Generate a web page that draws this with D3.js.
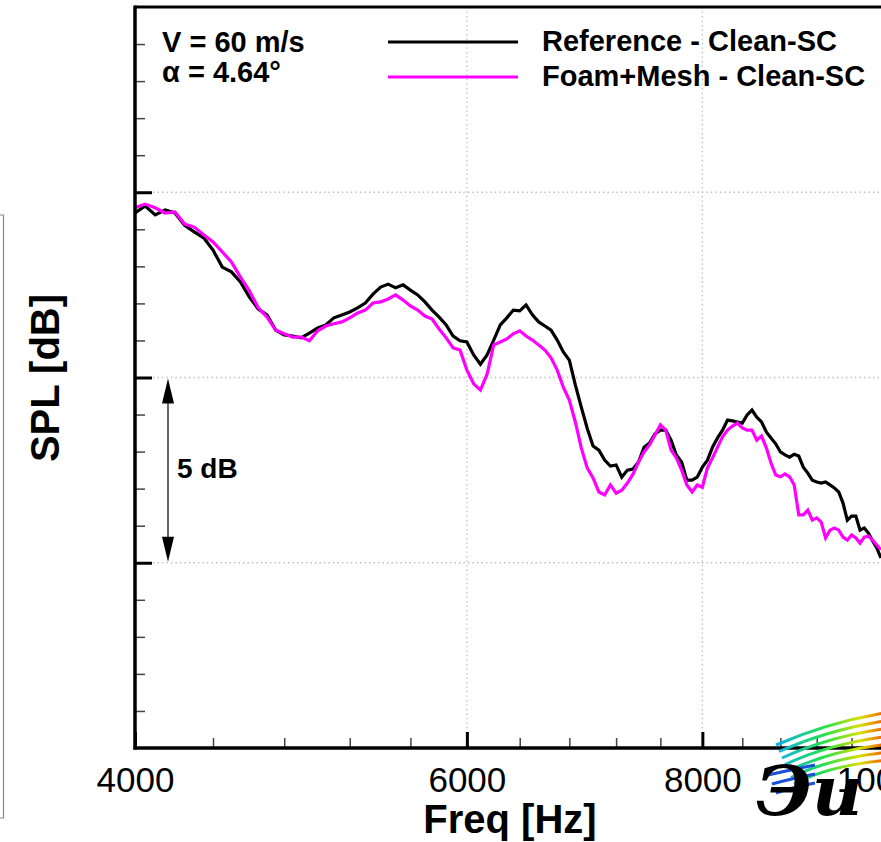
<!DOCTYPE html>
<html>
<head>
<meta charset="utf-8">
<script src="https://cdn.jsdelivr.net/npm/d3@7"></script>
<style>
  html, body { margin: 0; padding: 0; background: #fff; }
  svg { display: block; font-family: Arial, "Liberation Sans", Helvetica, sans-serif; }
</style>
</head>
<body>
<svg id="chart" width="881" height="842"></svg>
<script>
// ---------------- DATA ----------------
const freqs = [4000,4050,4100,4150,4200,4250,4300,4350,4400,4450,4500,4550,4600,4650,4700,4750,4800,4850,4900,4950,
  5000,5050,5100,5150,5200,5250,5300,5350,5400,5450,5500,5550,5600,5650,5700,5750,5800,5850,5900,5950,
  6000,6050,6100,6150,6200,6250,6300,6350,6400,6450,6500,6550,6600,6650,6700,6750,6800,6850,6900,6950,
  7000,7050,7100,7150,7200,7250,7300,7350,7400,7450,7500,7550,7600,7650,7700,7750,7800,7850,7900,7950,
  8000,8050,8100,8150,8200,8250,8300,8350,8400,8450,8500,8550,8600,8650,8700,8750,8800,8850,8900,8950,
  9000,9050,9100,9150,9200,9250,9300,9350,9400,9450,9500,9550,9600,9650,9700,9750,9800,9850,9900,9950];

const splReference = [39.44,39.63,39.39,39.52,39.44,39.11,38.93,38.77,38.44,37.98,37.85,37.58,37.17,36.85,36.69,36.28,36.15,36.12,36.07,36.20,
  36.34,36.42,36.61,36.69,36.77,36.88,37.01,37.25,37.44,37.52,37.42,37.50,37.36,37.23,37.04,36.82,36.63,36.42,36.12,35.99,
  35.96,35.61,35.36,35.61,36.01,36.42,36.61,36.82,36.80,36.96,36.69,36.50,36.39,36.28,36.01,35.69,35.47,34.80,34.20,33.63,
  33.15,33.04,32.77,32.61,32.64,32.31,32.50,32.53,32.72,33.12,33.23,33.48,33.58,33.58,33.31,32.91,32.72,32.23,32.23,32.31,
  32.58,32.77,33.12,33.37,33.58,33.85,33.83,33.80,33.77,33.99,34.12,33.93,33.80,33.53,33.37,33.21,32.99,32.91,32.85,32.93,
  32.88,32.58,32.42,32.23,32.18,32.15,32.18,32.10,32.02,31.91,31.61,31.15,31.26,31.26,30.88,30.94,30.80,30.59,30.40,30.13];

const splFoamMesh = [39.58,39.68,39.58,39.44,39.47,39.14,39.06,38.85,38.66,38.39,38.12,37.71,37.34,36.88,36.63,36.28,36.18,36.09,36.09,35.99,
  36.26,36.39,36.45,36.50,36.61,36.74,36.82,37.01,37.04,37.12,37.23,37.09,36.93,36.82,36.66,36.58,36.31,36.07,35.80,35.74,
  35.20,34.83,34.66,35.09,35.88,35.96,36.04,36.18,36.26,36.12,36.01,35.88,35.74,35.53,35.20,34.74,34.39,33.80,33.10,32.56,
  32.29,31.91,31.83,32.10,31.88,31.96,32.15,32.39,32.72,32.99,33.18,33.45,33.72,33.58,33.04,32.83,32.50,32.10,31.91,32.10,
  32.04,32.56,32.83,33.12,33.40,33.58,33.69,33.77,33.64,33.58,33.58,33.31,33.42,33.10,32.69,32.37,32.32,32.40,32.32,32.10,
  31.29,31.29,31.42,31.15,31.21,31.10,30.67,30.88,30.94,30.88,30.69,30.61,30.75,30.67,30.53,30.69,30.72,30.61,30.48,30.35];

const seriesNames = ["Reference - Clean-SC", "Foam+Mesh - Clean-SC"];
const seriesColors = ["#000000", "#ff00ff"];
const xMajorTicks = [4000, 6000, 8000, 10000];
const xMinorTicks = [4400,4800,5200,5600,6400,6800,7200,7600,8400,8800,9200,9600];
const yMajorTicks = [30, 35, 40];
const yMinorTicks = [26,27,28,29,31,32,33,34,36,37,38,39,41,42,43,44];
const conditionLines = ["V = 60 m/s", "\u03b1 = 4.64\u00b0"];

// ---------------- LAYOUT ----------------
(function draw() {
const svg = d3.select("#chart");
const pL = 135, pR = 885, pT = 7, pB = 748;

const x = d3.scaleLog().domain([4000, 10000]).range([pL, pR]);
const y = d3.scaleLinear().domain([25, 45]).range([pB, pT]);

// stray frame of neighbouring panel at far left
svg.append("path")
  .attr("d", "M0,215 H3.5 V818 H0")
  .attr("fill", "none").attr("stroke", "#888").attr("stroke-width", 1.2);

// grid lines
const grid = svg.append("g");
grid.selectAll(".hg").data(yMajorTicks).join("line")
  .attr("x1", pL).attr("x2", pR)
  .attr("y1", d => y(d)).attr("y2", d => y(d))
  .attr("stroke", "#b8b8b8").attr("stroke-width", 1.3).attr("stroke-dasharray", "1.3,3.2");
grid.selectAll(".vg").data([6000, 8000]).join("line")
  .attr("x1", d => x(d)).attr("x2", d => x(d))
  .attr("y1", pT).attr("y2", pB)
  .attr("stroke", "#b8b8b8").attr("stroke-width", 1.3).attr("stroke-dasharray", "1.3,3.2");

// axes via d3
const xMajor = svg.append("g").attr("transform", `translate(0,${pB})`)
  .call(d3.axisBottom(x).tickValues(xMajorTicks).tickSizeInner(-16).tickSizeOuter(0)
    .tickPadding(19).tickFormat(d3.format("d")));
xMajor.select(".domain").remove();
xMajor.selectAll(".tick line").attr("stroke", "#000").attr("stroke-width", 3);
xMajor.selectAll(".tick text").attr("font-size", 35).attr("fill", "#000")
  .attr("font-family", "Arial, 'Liberation Sans', sans-serif");

const xMinor = svg.append("g").attr("transform", `translate(0,${pB})`)
  .call(d3.axisBottom(x).tickValues(xMinorTicks).tickSizeInner(-10).tickSizeOuter(0).tickFormat(""));
xMinor.select(".domain").remove();
xMinor.selectAll(".tick line").attr("stroke", "#444").attr("stroke-width", 1.5);

const yMajor = svg.append("g").attr("transform", `translate(${pL},0)`)
  .call(d3.axisLeft(y).tickValues(yMajorTicks).tickSizeInner(-17).tickSizeOuter(0).tickFormat(""));
yMajor.select(".domain").remove();
yMajor.selectAll(".tick line").attr("stroke", "#000").attr("stroke-width", 3);

const yMinor = svg.append("g").attr("transform", `translate(${pL},0)`)
  .call(d3.axisLeft(y).tickValues(yMinorTicks).tickSizeInner(-10).tickSizeOuter(0).tickFormat(""));
yMinor.select(".domain").remove();
yMinor.selectAll(".tick line").attr("stroke", "#444").attr("stroke-width", 1.5);

// series lines
const line = d3.line().x((d, i) => x(freqs[i])).y(d => y(d));
svg.append("clipPath").attr("id", "plotclip")
  .append("rect").attr("x", pL).attr("y", pT).attr("width", pR - pL).attr("height", pB - pT);
[splReference, splFoamMesh].forEach((vals, k) => {
  svg.append("path").datum(vals)
    .attr("clip-path", "url(#plotclip)")
    .attr("d", line)
    .attr("fill", "none")
    .attr("stroke", seriesColors[k])
    .attr("stroke-width", 3.2)
    .attr("stroke-linejoin", "miter");
});

// frame
svg.append("line").attr("x1", pL).attr("x2", pL).attr("y1", pT - 1.5).attr("y2", pB + 1.5)
  .attr("stroke", "#000").attr("stroke-width", 3.5);
svg.append("line").attr("x1", pL - 1.5).attr("x2", 881).attr("y1", pB).attr("y2", pB)
  .attr("stroke", "#000").attr("stroke-width", 3.5);
svg.append("line").attr("x1", pL).attr("x2", 881).attr("y1", pT).attr("y2", pT)
  .attr("stroke", "#000").attr("stroke-width", 3);

// axis titles
svg.append("text").attr("x", 510).attr("y", 833).attr("text-anchor", "middle")
  .attr("font-size", 40).attr("font-weight", "bold").text("Freq [Hz]");
svg.append("text").attr("transform", "translate(59,378) rotate(-90)").attr("text-anchor", "middle")
  .attr("font-size", 40).attr("font-weight", "bold").text("SPL [dB]");

// condition text
conditionLines.forEach((t, i) => {
  svg.append("text").attr("x", 162).attr("y", 52 + i * 30)
    .attr("font-size", 29).attr("font-weight", "bold").text(t);
});

// legend
seriesNames.forEach((n, i) => {
  const ly = 42 + i * 35;
  svg.append("line").attr("x1", 388).attr("x2", 518).attr("y1", ly).attr("y2", ly)
    .attr("stroke", seriesColors[i]).attr("stroke-width", 3.2);
  svg.append("text").attr("x", 542).attr("y", ly + 9)
    .attr("font-size", 29).attr("font-weight", "bold").text(n);
});

// 5 dB annotation arrow
const ax = 168;
const y30 = y(30), y35 = y(35);
svg.append("line").attr("x1", ax).attr("x2", ax).attr("y1", y35 + 20).attr("y2", y30 - 20)
  .attr("stroke", "#000").attr("stroke-width", 1.2);
svg.append("path").attr("d", `M${ax},${y35 + 1} L${ax - 6},${y35 + 26} L${ax + 6},${y35 + 26} Z`).attr("fill", "#000");
svg.append("path").attr("d", `M${ax},${y30 - 1} L${ax - 6},${y30 - 26} L${ax + 6},${y30 - 26} Z`).attr("fill", "#000");
svg.append("text").attr("x", 177).attr("y", 478)
  .attr("font-size", 28).attr("font-weight", "bold").text("5 dB");

// logo decoration (bottom right)
const defs = svg.append("defs");
const grad = defs.append("linearGradient").attr("id", "logograd")
  .attr("gradientUnits", "userSpaceOnUse").attr("x1", 775).attr("x2", 881).attr("y1", 0).attr("y2", 0);
[["0", "#10b0f0"], ["0.45", "#20e050"], ["0.8", "#d8e000"], ["1", "#f07000"]].forEach(s =>
  grad.append("stop").attr("offset", s[0]).attr("stop-color", s[1]));
const logo = svg.append("g");
for (let i = 0; i < 7; i++) {
  const sx = 776 + i * 3, sy = 745 + i * 6.5, ey = 712 + i * 8;
  logo.append("path")
    .attr("d", `M${sx},${sy} Q${830},${(sy + ey) / 2 - 7} ${890},${ey}`)
    .attr("fill", "none").attr("stroke", "url(#logograd)").attr("stroke-width", 3);
}
for (let i = 0; i < 3; i++) {
  logo.append("path")
    .attr("d", `M${768 + i * 4},${775 + i * 9} Q${790},${770 + i * 9} ${815},${765 + i * 9}`)
    .attr("fill", "none").attr("stroke", "#1a4fd8").attr("stroke-width", 3);
}
logo.append("text").attr("x", 756).attr("y", 815).attr("font-size", 70)
  .attr("font-weight", "bold").attr("font-style", "italic")
  .attr("font-family", "'DejaVu Serif', serif").attr("fill", "#000").text("\u042d\u0438");
})();
</script>
</body>
</html>
